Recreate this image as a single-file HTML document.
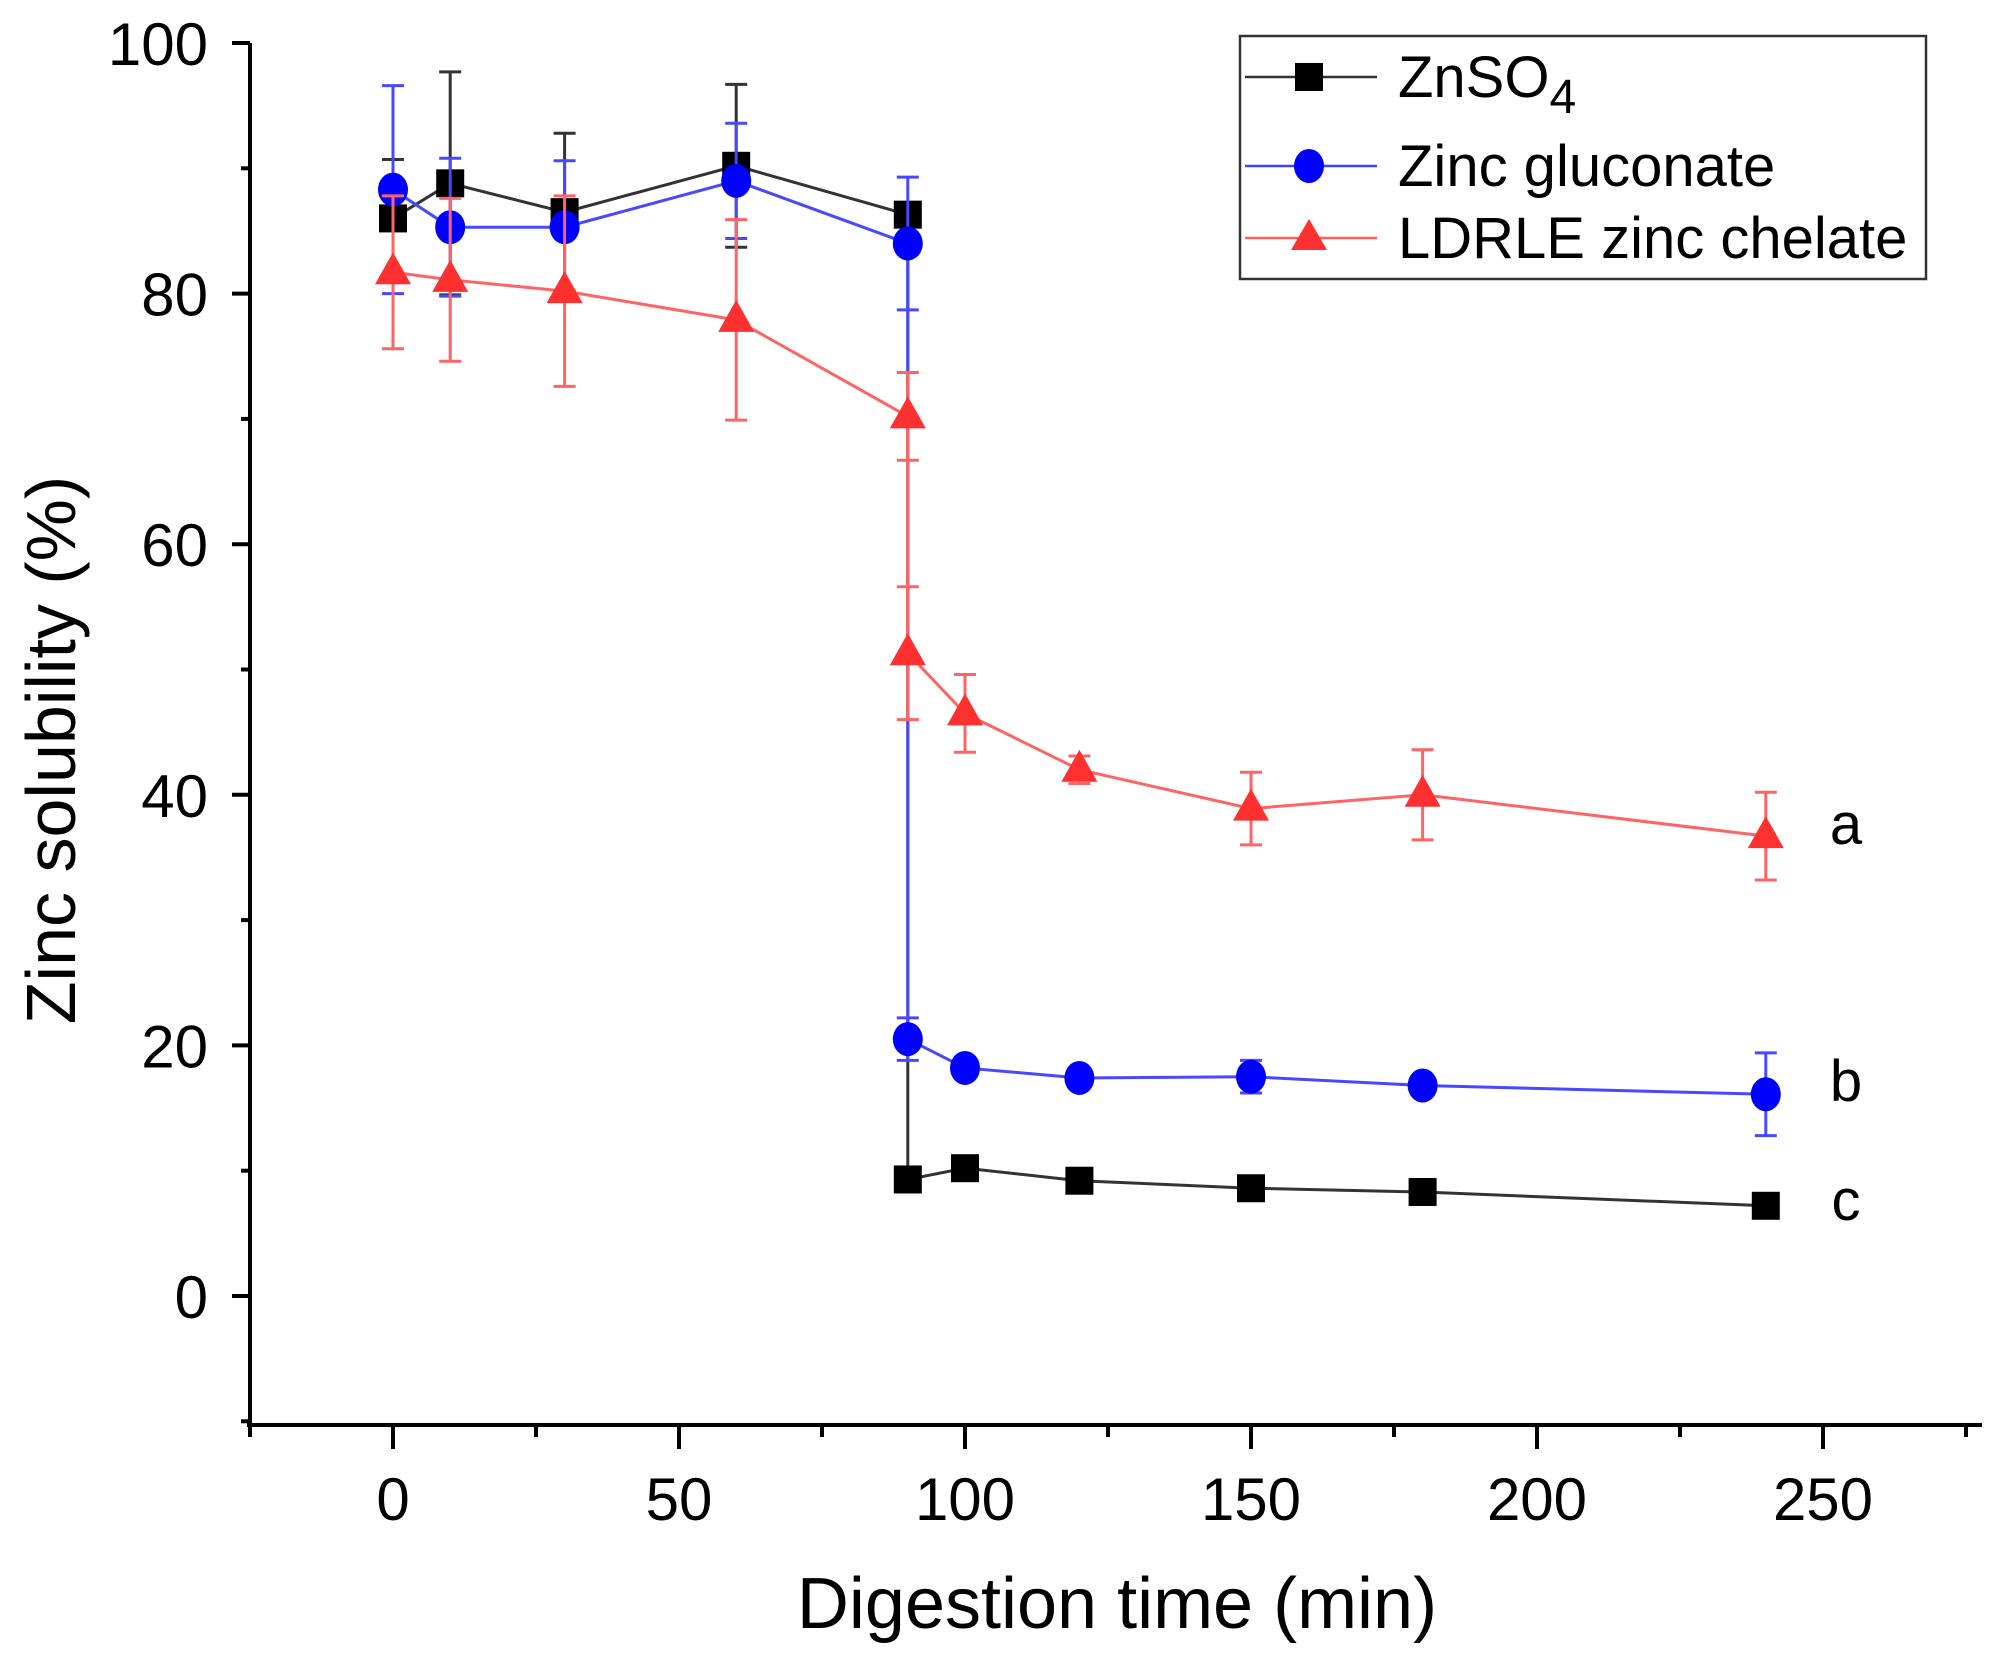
<!DOCTYPE html>
<html><head><meta charset="utf-8"><style>
html,body{margin:0;padding:0;background:#fff;}
svg{display:block;font-family:"Liberation Sans",Arial,sans-serif;}
</style></head><body>
<svg id="chart" width="1991" height="1661" viewBox="0 0 1991 1661" xmlns="http://www.w3.org/2000/svg">
<g id="axes"></g>
<g id="series"></g>
<text x="0" y="0" transform="translate(75,750) rotate(-90)" text-anchor="middle" font-size="70" fill="#000">Zinc solubility (%)</text>
<text x="1117" y="1628" text-anchor="middle" font-size="72" fill="#000">Digestion time (min)</text>
<g>
<rect x="1240" y="36" width="686" height="243" fill="#fff" stroke="#333" stroke-width="2.5"/>
<g>
<line x1="1245" y1="77" x2="1377" y2="77" stroke="#333" stroke-width="2.5"/>
<rect x="1295" y="63" width="28" height="28" fill="#000"/>
<text x="1398" y="97" font-size="58">ZnSO<tspan font-size="48" dy="16">4</tspan></text></g>
<g>
<line x1="1245" y1="166" x2="1377" y2="166" stroke="#4040ff" stroke-width="2.5"/>
<ellipse cx="1309" cy="166" rx="15" ry="17" fill="#0000ff"/>
<text x="1398" y="186" font-size="58">Zinc gluconate</text></g>
<g>
<line x1="1245" y1="238" x2="1377" y2="238" stroke="#ff6060" stroke-width="2.5"/>
<polygon points="1309,219 1291,250 1327,250" fill="#ff3030"/>
<text x="1398" y="258" font-size="58">LDRLE zinc chelate</text></g>
</g>
</svg>
<script>
const xs=[0,10,30,60,90,90,100,120,150,180,240];
const znVals=[86,88.8,86.5,90.2,86.3,9.3,10.2,9.2,8.6,8.3,7.2];
const znErr=[4.7,8.9,6.3,6.5,0.8,0.5,0.5,0.5,0.5,0.5,0.5];
const glVals=[88.3,85.3,85.3,89,84,20.5,18.2,17.4,17.5,16.8,16.1];
const glErr=[8.3,5.5,5.3,4.6,5.3,1.7,0.6,0.6,1.3,0.6,3.3];
const ldVals=[81.7,81.1,80.2,77.9,70.2,51.3,46.5,42,38.9,40,36.7];
const ldErr=[6.1,6.5,7.6,8,3.5,5.3,3.1,1.1,2.9,3.6,3.5];
const xTicks=[0,50,100,150,200,250];
const yTicks=[0,20,40,60,80,100];
const letters=["a","b","c"];
const letterVals=[37.5,17,7.5];

const NS="http://www.w3.org/2000/svg";
const X0=393, XS=5.72, Y0=1296, YS=12.53;
const sx=v=>X0+v*XS, sy=v=>Y0-v*YS;
const LEFT=250, BOTTOM=1425, RIGHT=1982, TOP=43;
function mk(tag,attrs,parent){const e=document.createElementNS(NS,tag);for(const k in attrs)e.setAttribute(k,attrs[k]);parent.appendChild(e);return e;}
const axes=document.getElementById('axes'), series=document.getElementById('series');
let l=mk('line',{x1:LEFT,y1:TOP,x2:LEFT,y2:BOTTOM+2,stroke:'#000','stroke-width':4},axes);


l=mk('line',{x1:LEFT-3,y1:BOTTOM,x2:RIGHT,y2:BOTTOM,stroke:'#000','stroke-width':4},axes);


yTicks.forEach(t=>{
  mk('line',{x1:LEFT-18,y1:sy(t),x2:LEFT,y2:sy(t),stroke:'#000','stroke-width':4},axes);
  mk('line',{x1:LEFT-9,y1:sy(t+10),x2:LEFT,y2:sy(t+10),stroke:'#000','stroke-width':4},axes);
  const tx=mk('text',{x:LEFT-42,y:sy(t)+22,'text-anchor':'end','font-size':60},axes);
  tx.textContent=t;
  
  
});
mk('line',{x1:LEFT-9,y1:sy(-10),x2:LEFT,y2:sy(-10),stroke:'#000','stroke-width':4},axes);
xTicks.forEach(t=>{
  mk('line',{x1:sx(t),y1:BOTTOM,x2:sx(t),y2:BOTTOM+24,stroke:'#000','stroke-width':4},axes);
  mk('line',{x1:sx(t+25),y1:BOTTOM,x2:sx(t+25),y2:BOTTOM+12,stroke:'#000','stroke-width':4},axes);
  const tx=mk('text',{x:sx(t),y:BOTTOM+95,'text-anchor':'middle','font-size':60},axes);
  tx.textContent=t;
  
  
});
mk('line',{x1:sx(-25),y1:BOTTOM,x2:sx(-25),y2:BOTTOM+12,stroke:'#000','stroke-width':4},axes);

function drawSeries(name,vals,errs,line,fill,shape){
  const g=mk('g',{},series);
  
  
  mk('polyline',{points:xs.map((x,i)=>sx(x)+','+sy(vals[i])).join(' '),fill:'none',stroke:line,'stroke-width':3},g);
  xs.forEach((x,i)=>{
    const cx=sx(x),y1=sy(vals[i]+errs[i]),y2=sy(vals[i]-errs[i]);
    mk('line',{x1:cx,y1:y1,x2:cx,y2:y2,stroke:line,'stroke-width':3},g);
    mk('line',{x1:cx-11,y1:y1,x2:cx+11,y2:y1,stroke:line,'stroke-width':3},g);
    mk('line',{x1:cx-11,y1:y2,x2:cx+11,y2:y2,stroke:line,'stroke-width':3},g);
  });
  xs.forEach((x,i)=>{
    const cx=sx(x),cy=sy(vals[i]);let m;
    if(shape==='sq')m=mk('rect',{x:cx-14,y:cy-14,width:28,height:28,fill:fill},g);
    else if(shape==='ci')m=mk('ellipse',{cx:cx,cy:cy,rx:15,ry:17,fill:fill},g);
    else m=mk('polygon',{points:`${cx},${cy-20} ${cx-18},${cy+12} ${cx+18},${cy+12}`,fill:fill},g);
    
    
  });
}
drawSeries('znso4',znVals,znErr,'#333','#000','sq');
drawSeries('zinc-gluconate',glVals,glErr,'#4848ff','#0000ff','ci');
drawSeries('ldrle-zinc-chelate',ldVals,ldErr,'#ff6464','#ff3030','tr');
letters.forEach((s,i)=>{
  const t=mk('text',{x:1846,y:sy(letterVals[i])+18,'text-anchor':'middle','font-size':58},series);
  t.textContent=s;
  
  
});
</script>
</body></html>
